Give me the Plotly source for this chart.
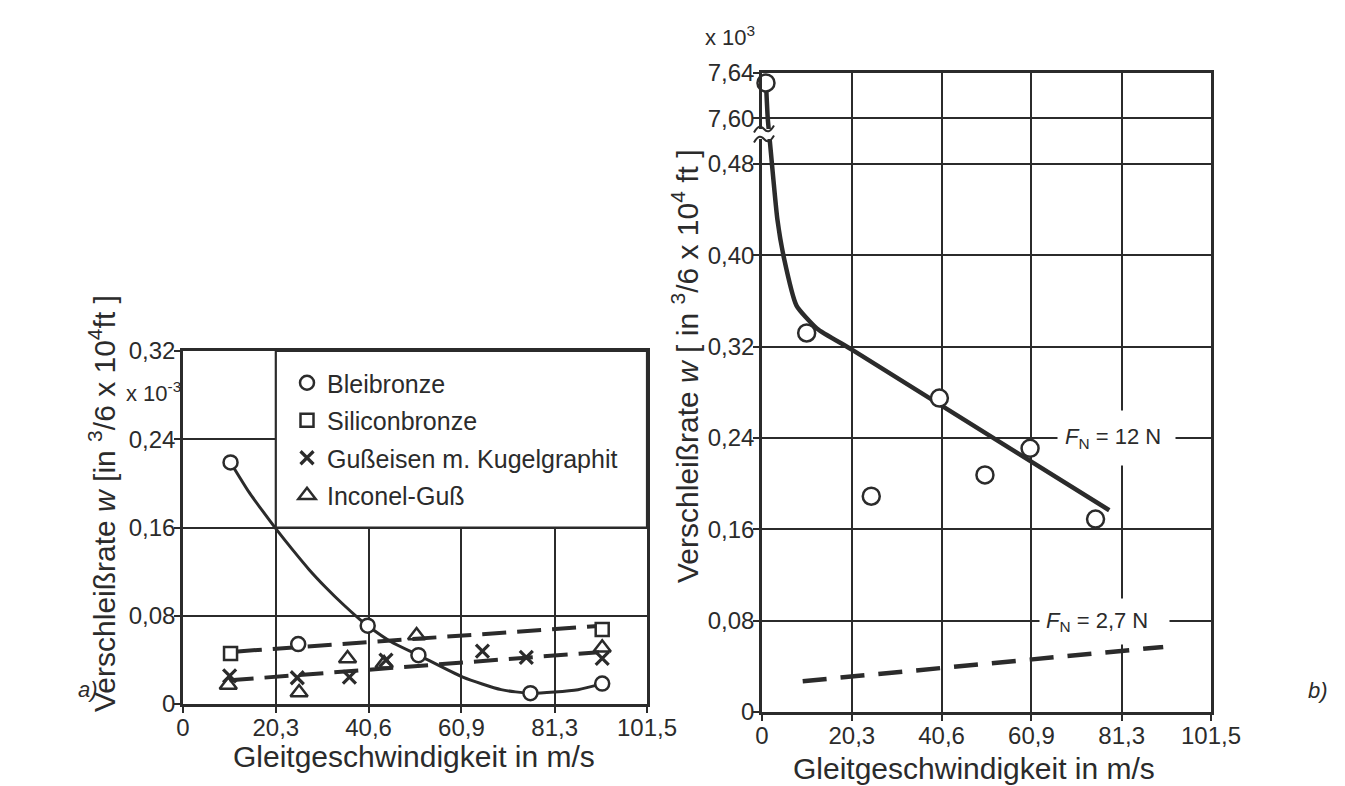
import plotly.graph_objects as go

# ---------------- data: left chart (a) ----------------
x_ticks = [0, 20.3, 40.6, 60.9, 81.3, 101.5]
x_tick_text = ["0", "20,3", "40,6", "60,9", "81,3", "101,5"]
a_y_ticks = [0, 0.08, 0.16, 0.24, 0.32]
a_y_tick_text = ["0", "0,08", "0,16", "0,24", "0,32"]

blei_x = [10.4, 25.2, 40.4, 51.5, 76.0, 91.7]
blei_y = [0.219, 0.0543, 0.071, 0.0443, 0.0098, 0.0185]
blei_curve_x = [10.4, 14.4, 17.4, 20.3, 24.0, 27.6, 31.3, 35.0, 38.6, 40.4, 45.5, 51.5,
                61.2, 69.6, 76.0, 86.4, 91.7]
blei_curve_y = [0.219, 0.1923, 0.175, 0.159, 0.1397, 0.1218, 0.1054, 0.0904, 0.077, 0.071,
                0.0565, 0.0443, 0.0244, 0.0130, 0.0098, 0.0130, 0.0185]

sili_x = [10.4, 91.7]
sili_y = [0.0457, 0.0675]
sili_fit_x = [12.0, 91.7]
sili_fit_y = [0.0477, 0.0710]

guss_x = [10.2, 25.0, 36.4, 44.4, 65.5, 75.1, 91.7]
guss_y = [0.0254, 0.0238, 0.0244, 0.0397, 0.0480, 0.0422, 0.0413]
guss_fit_x = [10.2, 91.0]
guss_fit_y = [0.0215, 0.0470]

inco_x = [9.9, 25.4, 36.0, 44.0, 51.1, 91.7]
inco_y = [0.0173, 0.0104, 0.0412, 0.0366, 0.0620, 0.0509]

# ---------------- data: right chart (b) ----------------
b_y_ticks = [0, 0.08, 0.16, 0.24, 0.32, 0.40, 0.48, 7.60, 7.64]
b_y_tick_text = ["0", "0,08", "0,16", "0,24", "0,32", "0,40", "0,48", "7,60", "7,64"]

b12_x = [0.9, 10.1, 24.7, 40.1, 50.4, 60.6, 75.4]
b12_y = [7.631, 0.332, 0.189, 0.275, 0.2077, 0.231, 0.169]
b12_curve_x = [0.9, 1.3, 1.8, 3.46, 5.0, 7.8, 12.4, 20.5, 78.5]
b12_curve_y = [7.631, 7.60, 0.499, 0.432, 0.397, 0.356, 0.336, 0.317, 0.1767]
b27_x = [9.2, 90.7]
b27_y = [0.027, 0.057]

BREAK_LOW, BREAK_HIGH, BREAK_DISPLAY = 0.50, 7.60, 0.52


def brk(v):
    """map a value onto the broken y axis of chart b"""
    return v if v <= BREAK_LOW else BREAK_DISPLAY + (v - BREAK_HIGH)


INK = "#2b2b2b"
FONT = "Liberation Sans, Arial, sans-serif"
OFF = 8                       # page margin of the html body
W, H = 1345 - OFF, 786 - OFF  # figure size so that it fits the window


def pxx(px):
    """page pixel x -> paper fraction"""
    return (px - OFF) / W


def pxy(py):
    """page pixel y -> paper fraction"""
    return 1 - (py - OFF) / H


fig = go.Figure()

# ---- chart a traces ----
fig.add_trace(go.Scatter(x=blei_curve_x, y=blei_curve_y, mode="lines",
                         line=dict(color=INK, width=3, shape="spline", smoothing=0.6),
                         showlegend=False, xaxis="x", yaxis="y", hoverinfo="skip"))
fig.add_trace(go.Scatter(x=sili_fit_x, y=sili_fit_y, mode="lines",
                         line=dict(color=INK, width=4, dash="24px,11px"),
                         showlegend=False, xaxis="x", yaxis="y", hoverinfo="skip"))
fig.add_trace(go.Scatter(x=guss_fit_x, y=guss_fit_y, mode="lines",
                         line=dict(color=INK, width=4, dash="24px,11px"),
                         showlegend=False, xaxis="x", yaxis="y", hoverinfo="skip"))

mk = dict(color="white", line=dict(color=INK, width=2.5))
fig.add_trace(go.Scatter(x=blei_x, y=blei_y, mode="markers", name="Bleibronze",
                         marker=dict(symbol="circle", size=14, **mk),
                         legendgroup="a1", xaxis="x", yaxis="y"))
fig.add_trace(go.Scatter(x=sili_x, y=sili_y, mode="markers", name="Siliconbronze",
                         marker=dict(symbol="square", size=13, **mk),
                         legendgroup="a2", xaxis="x", yaxis="y"))
fig.add_trace(go.Scatter(x=guss_x, y=guss_y, mode="markers", name="Gußeisen m. Kugelgraphit",
                         marker=dict(symbol="x-thin-open", size=13, color=INK,
                                     line=dict(color=INK, width=3.2)),
                         legendgroup="a3", xaxis="x", yaxis="y"))
fig.add_trace(go.Scatter(x=inco_x, y=inco_y, mode="markers", name="Inconel-Guß",
                         marker=dict(symbol="triangle-up-open", size=15, color=INK,
                                     line=dict(color=INK, width=2.5)),
                         legendgroup="a4", xaxis="x", yaxis="y"))

# ---- chart b traces ----
fig.add_trace(go.Scatter(x=b12_curve_x, y=[brk(v) for v in b12_curve_y], mode="lines",
                         line=dict(color=INK, width=4.5, shape="spline", smoothing=0.5),
                         showlegend=False, xaxis="x2", yaxis="y2", hoverinfo="skip"))
fig.add_trace(go.Scatter(x=b27_x, y=[brk(v) for v in b27_y], mode="lines",
                         line=dict(color=INK, width=4.5, dash="24px,14px"),
                         showlegend=False, xaxis="x2", yaxis="y2", hoverinfo="skip"))
fig.add_trace(go.Scatter(x=b12_x, y=[brk(v) for v in b12_y], mode="markers",
                         marker=dict(symbol="circle", size=17, **mk),
                         showlegend=False, xaxis="x2", yaxis="y2", cliponaxis=False))

axis_common = dict(showline=True, linecolor=INK, linewidth=2.6, mirror=True,
                   showgrid=True, gridcolor=INK, gridwidth=1.8, zeroline=False,
                   ticks="outside", ticklen=6, tickcolor=INK, tickwidth=1.8,
                   tickfont=dict(family=FONT, size=24, color=INK), tickmode="array",
                   automargin=False)

fig.update_layout(
    width=W, height=H, margin=dict(l=0, r=0, t=0, b=0, autoexpand=False),
    paper_bgcolor="white", plot_bgcolor="white",
    font=dict(family=FONT, color=INK),
    xaxis=dict(domain=[pxx(183), pxx(647)], range=[0, 101.5], tickvals=x_ticks,
               ticktext=x_tick_text, anchor="y", ticklabelstandoff=-6, **axis_common),
    yaxis=dict(domain=[pxy(704), pxy(351)], range=[0, 0.32], tickvals=a_y_ticks,
               ticktext=a_y_tick_text, anchor="x", ticklabelstandoff=-6, **axis_common),
    xaxis2=dict(domain=[pxx(762), pxx(1211)], range=[0, 101.5], tickvals=x_ticks,
                ticktext=x_tick_text, anchor="y2", ticklabelstandoff=-6, **axis_common),
    yaxis2=dict(domain=[pxy(712), pxy(72.7)], range=[0, brk(7.64)],
                tickvals=[brk(v) for v in b_y_ticks], ticktext=b_y_tick_text,
                anchor="x2", ticklabelstandoff=-6, **axis_common),
    legend=dict(x=pxx(287), y=pxy(360), xanchor="left", yanchor="top",
                bgcolor="rgba(0,0,0,0)", borderwidth=0, traceorder="grouped",
                tracegroupgap=2, itemsizing="trace",
                font=dict(family=FONT, size=25, color=INK)),
    showlegend=True,
)

# legend box of chart a (covers the grid there)
fig.add_shape(type="rect", xref="x", yref="y", x0=x_ticks[1], x1=x_ticks[-1],
              y0=a_y_ticks[2], y1=a_y_ticks[-1], fillcolor="white",
              line=dict(color=INK, width=2.2), layer="above")

# axis break symbol on chart b
bx0, bx1 = pxx(754), pxx(774)
fig.add_shape(type="rect", xref="paper", yref="paper", x0=bx0, x1=bx1,
              y0=pxy(139), y1=pxy(129), fillcolor="white", line=dict(width=0), layer="above")
for py in (129, 139):
    y0 = pxy(py)
    amp = 3.5 / H
    path = (f"M {bx0},{y0 - amp} C {pxx(758)},{y0 + amp} {pxx(761)},{y0 + amp} "
            f"{pxx(764)},{y0} S {pxx(770)},{y0 - amp} {bx1},{y0 + amp}")
    fig.add_shape(type="path", xref="paper", yref="paper", path=path,
                  line=dict(color=INK, width=2), layer="above")

ann_font = dict(family=FONT, size=30, color=INK)
annotations = [
    dict(text="Gleitgeschwindigkeit in m/s", x=pxx(414), y=pxy(756)),
    dict(text="Gleitgeschwindigkeit in m/s", x=pxx(974), y=pxy(768)),
    dict(text="Verschleißrate <i>w</i> [in <sup>3</sup>/6 x 10<sup>4</sup>ft ]",
         x=pxx(102), y=pxy(504), textangle=-90),
    dict(text="Verschleißrate <i>w</i> [ in <sup>3</sup>/6 x 10<sup>4</sup> ft ]",
         x=pxx(685), y=pxy(366), textangle=-90),
]
for a in annotations:
    fig.add_annotation(xref="paper", yref="paper", showarrow=False,
                       xanchor="center", yanchor="middle", font=ann_font, **a)

small = dict(family=FONT, size=22, color=INK)
extra_texts = [
    dict(text="x 10<sup>-3</sup>", x=pxx(153), y=pxy(392), font=small),
    dict(text="x 10<sup>3</sup>", x=pxx(730), y=pxy(36), font=small),
    dict(text="<i>a)</i>", x=pxx(88), y=pxy(689), font=small),
    dict(text="<i>b)</i>", x=pxx(1318), y=pxy(690), font=small),
]
for a in extra_texts:
    fig.add_annotation(xref="paper", yref="paper", showarrow=False,
                       xanchor="center", yanchor="middle", **a)

fn_font = dict(family=FONT, size=22, color=INK)
fig.add_annotation(text="<i>F</i><sub>N</sub> = 12 N", xref="x2", yref="y2",
                   x=80.1, y=b_y_ticks[3], showarrow=False, font=fn_font,
                   bgcolor="white", borderpad=7, width=103, height=40, align="left")
fig.add_annotation(text="<i>F</i><sub>N</sub> = 2,7 N", xref="x2", yref="y2",
                   x=77.4, y=0.0795, showarrow=False, font=fn_font,
                   bgcolor="white", borderpad=6, width=117, height=33, align="left")

fig.write_html("out.html")
